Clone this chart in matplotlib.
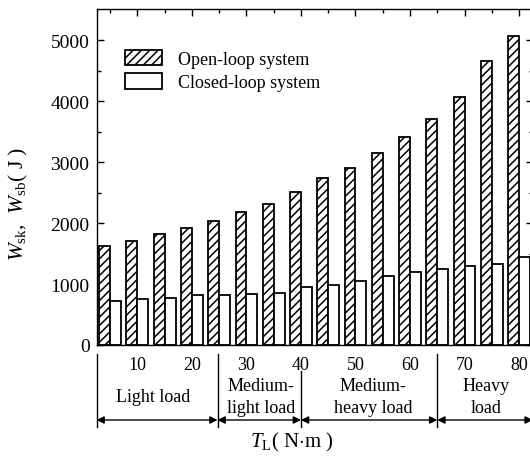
import matplotlib
matplotlib.use("Agg")
import matplotlib.pyplot as plt
import numpy as np

plt.rcParams['font.family'] = ['Liberation Serif', 'DejaVu Serif']
plt.rcParams['mathtext.fontset'] = 'custom'
plt.rcParams['mathtext.rm'] = 'Liberation Serif'
plt.rcParams['mathtext.it'] = 'Liberation Serif:italic'
plt.rcParams['hatch.linewidth'] = 1.1

# ---- data ----
torque = [5, 10, 15, 20, 25, 30, 35, 40, 45, 50, 55, 60, 65, 70, 75, 80]
open_loop = [1620, 1700, 1815, 1925, 2030, 2180, 2315, 2505, 2745, 2900, 3155, 3410, 3710, 4065, 4665, 5070]
closed_loop = [720, 755, 765, 815, 825, 840, 845, 945, 980, 1045, 1135, 1190, 1240, 1290, 1330, 1440]
tick_values = [10, 20, 30, 40, 50, 60, 70, 80]
tick_labels = ['10', '20', '30', '40', '50', '60', '70', '80']
legend_labels = ['Open-loop system', 'Closed-loop system']
group_bounds = [2.5, 24.7, 40, 65, 82.5]
group_labels = ['Light load', 'Medium-\nlight load', 'Medium-\nheavy load', 'Heavy\nload']
group_label_x = [12.9, 32.7, 53.2, 73.9]

W, H = 530, 460
fig = plt.figure(figsize=(W / 100, H / 100), dpi=100)
ax_left, ax_right, ax_top, ax_bot = 96.5, 532.7, 9.5, 346
ax_h = ax_bot - ax_top
ax = fig.add_axes([ax_left / W, (H - ax_bot) / H, (ax_right - ax_left) / W, ax_h / H])

x = np.array(torque, dtype=float)
bw = 2.0
ax.bar(x - bw / 2, open_loop, width=bw, facecolor='white', edgecolor='black',
       hatch='////', linewidth=1.3, label=legend_labels[0], zorder=2)
ax.bar(x + bw / 2, closed_loop, width=bw, facecolor='white', edgecolor='black',
       linewidth=1.3, label=legend_labels[1], zorder=2)

ax.set_xlim(2.5, 82.5)
ax.set_ylim(0, 5520)
ax.set_xticks(tick_values)
ax.set_xticklabels(tick_labels)
ax.set_xticks([5, 15, 25, 35, 45, 55, 65, 75], minor=True)
ax.set_yticks([0, 1000, 2000, 3000, 4000, 5000])
ax.set_yticks(np.arange(500, 5500, 1000), minor=True)
ax.tick_params(which='both', direction='in', top=True, right=True, width=1.0)
ax.tick_params(which='major', length=5)
ax.tick_params(which='minor', length=3)
ax.tick_params(axis='y', labelsize=14, pad=5)
ax.tick_params(axis='x', labelsize=13, pad=8)
for s in ax.spines.values():
    s.set_linewidth(1.0)

ax.set_ylabel(r'$W_{\mathrm{sk}}$,  $W_{\mathrm{sb}}$( J )', fontsize=15.5)
ax.yaxis.set_label_coords(-0.153, (ax_bot - 204) / ax_h)
ax.set_xlabel(r'$T_{\mathrm{L}}$( N$\cdot$m )', fontsize=15)
ax.xaxis.label.set_va('center')
ax.xaxis.set_label_coords((292 - ax_left) / (ax_right - ax_left), (ax_bot - 442) / ax_h)

leg = ax.legend(loc='upper left', bbox_to_anchor=(0.065, 0.877), frameon=False,
                fontsize=13, handlelength=2.05, handleheight=0.95, labelspacing=0.3,
                handletextpad=0.9, borderpad=0, borderaxespad=0)

# group annotations below the axis
trans = ax.get_xaxis_transform()
def ay(px):
    return (ax_bot - px) / ax_h
y_bot, y_arr = ay(428), ay(421)
for b in group_bounds:
    top_px = 372 if b == 40 else 355
    ax.plot([b, b], [ay(top_px), y_bot], transform=trans, color='black', lw=1.0,
            clip_on=False)
for i in range(len(group_bounds) - 1):
    ax.annotate('', xy=(group_bounds[i], y_arr), xytext=(group_bounds[i + 1], y_arr),
                xycoords=trans, textcoords=trans,
                arrowprops=dict(arrowstyle='<|-|>', color='black', lw=1.0,
                                mutation_scale=11, shrinkA=0, shrinkB=0))
for lab, gx in zip(group_labels, group_label_x):
    yy = ay(398) if '\n' not in lab else ay(397.5)
    ax.text(gx, yy, lab, transform=trans, ha='center', va='center', fontsize=13,
            linespacing=1.42)

fig.savefig('out.png', dpi=100)
